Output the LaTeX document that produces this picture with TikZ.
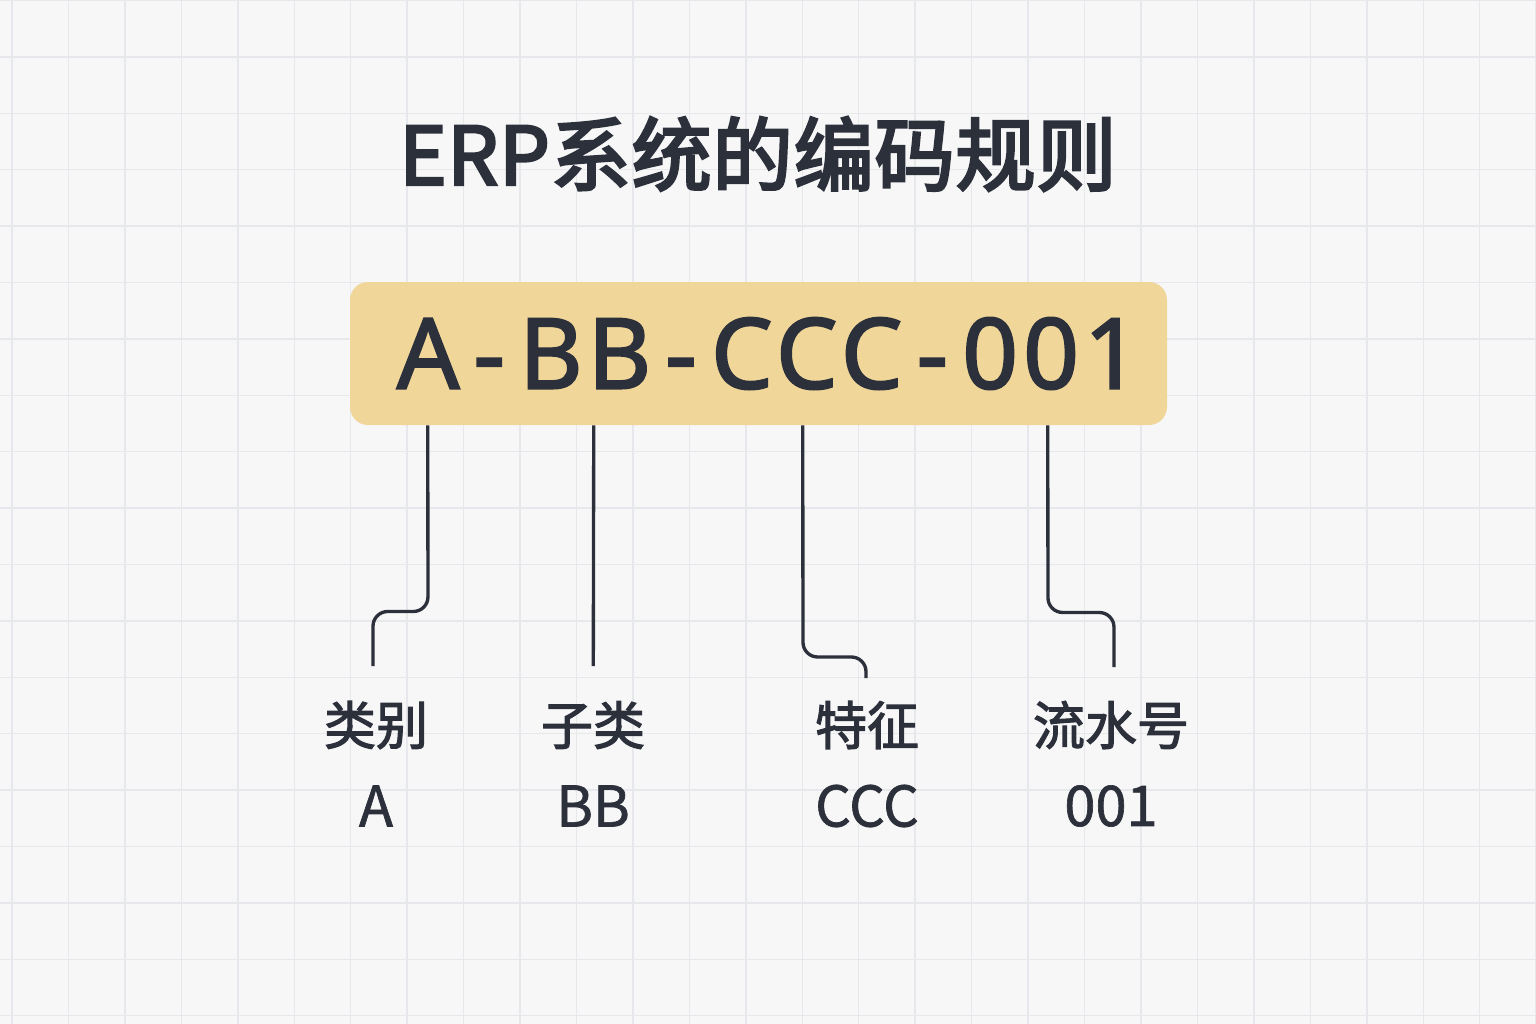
\documentclass[tikz,border=0pt]{standalone}
\usepackage{fontspec}
\usepackage{xcolor}
\usepackage{tikz}
\newfontfamily\cjk{Noto Sans CJK SC}
\newfontfamily\cjktitle[FakeBold=3.5,LetterSpace=1.2]{Noto Sans CJK SC}
\newfontfamily\cjkname[FakeBold=2.2]{Noto Sans CJK SC}
\newfontfamily\cjkpart[FakeBold=1.2]{Noto Sans CJK SC}
\newfontfamily\codefont[LetterSpace=5,FakeBold=2]{Noto Sans}

\definecolor{paper}{RGB}{247,247,248}
\definecolor{gridgray}{RGB}{231,232,235}
\definecolor{codefill}{RGB}{240,214,153}
\definecolor{ink}{RGB}{43,48,59}

\tikzset{
  gridline/.style={draw=gridgray, line width=1.1pt},
  lead/.style={draw=ink, line width=2.5pt, rounded corners=11pt},
  partname/.style={font=\cjkname\fontsize{39}{44}\selectfont, text=ink, inner sep=0.75pt},
  partcode/.style={font=\cjkpart\fontsize{42}{48}\selectfont, text=ink, inner sep=0.75pt}
}
\newcommand{\dashsep}{\kern10.5pt-\kern10.5pt}

\begin{document}
\begin{tikzpicture}[x=0.75pt,y=0.75pt,yscale=-1,xscale=1]
\useasboundingbox (0,0) rectangle (1536,1024);
\fill[paper] (0,0) rectangle (1536,1024);

% grid
\foreach \gx in {0,...,27} \draw[gridline] ({12+56.45*\gx},0) -- ({12+56.45*\gx},1024);
\foreach \gy in {0,...,18} \draw[gridline] (0,{0.5+56.4*\gy}) -- (1536,{0.5+56.4*\gy});

% title
\node (title) at (758,154) [font=\cjktitle\fontsize{60}{66}\selectfont, text=ink] {ERP系统的编码规则};

% code box
\node (code) at (758.5,353.5) [fill=codefill, rounded corners=13.5pt, minimum width=612.75pt, minimum height=107.25pt, inner sep=0pt, font=\codefont\fontsize{73.5}{80}\selectfont, text=ink] {\kern15pt A\dashsep BB\dashsep CCC\dashsep 001};

% tap points on the box
\path (code.south west) ++(78,0) coordinate (tapA);
\path (code.south west) ++(244,0) coordinate (tapB);
\path (code.south west) ++(453,0) coordinate (tapC);
\path (code.south west) ++(698,0) coordinate (tapD);

% labels
\node (nameA) at (376,725) [partname] {类别};
\node (nameB) at (593,725) [partname] {子类};
\node (nameC) at (867,725) [partname] {特征};
\node (nameD) at (1111,725) [partname] {流水号};
\node (partA) at (376,806) [partcode] {A};
\node (partB) at (593,806) [partcode] {BB};
\node (partC) at (867,806) [partcode] {CCC};
\node (partD) at (1111,806) [partcode] {001};

% line ends
\coordinate (endA) at (373,666);
\coordinate (endB) at (593.3,666);
\coordinate (endC) at (866,678);
\coordinate (endD) at (1114,667);

% leads
\draw[lead] (tapA) -- (428,611.5) -| (endA);
\draw[lead] (tapB) -- (endB);
\draw[lead] (tapC) -- (803,657) -| (endC);
\draw[lead] (tapD) -- (1048,612.5) -| (endD);
\end{tikzpicture}
\end{document}
